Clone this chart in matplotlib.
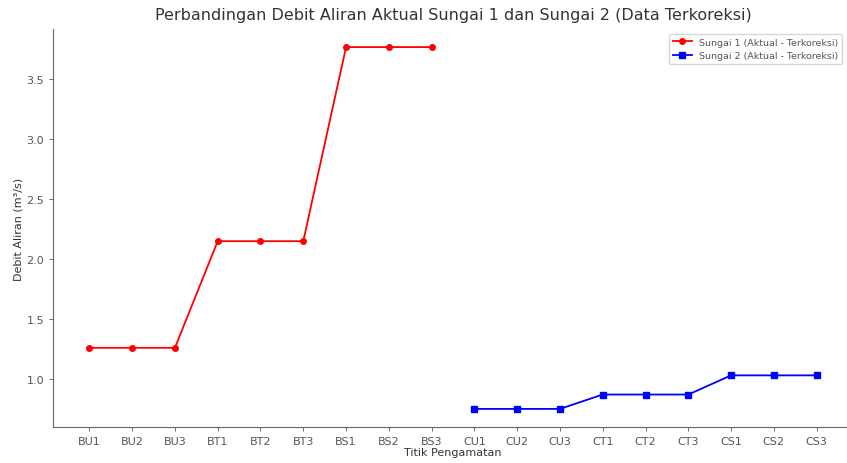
import matplotlib
matplotlib.use('Agg')
from matplotlib import pyplot as plt

titik = ['BU1', 'BU2', 'BU3', 'BT1', 'BT2', 'BT3', 'BS1', 'BS2', 'BS3',
         'CU1', 'CU2', 'CU3', 'CT1', 'CT2', 'CT3', 'CS1', 'CS2', 'CS3']
sungai1 = [1.26, 1.26, 1.26, 2.15, 2.15, 2.15, 3.77, 3.77, 3.77]
sungai2 = [0.75, 0.75, 0.75, 0.87, 0.87, 0.87, 1.03, 1.03, 1.03]

fig = plt.figure(figsize=(8.47, 4.64), dpi=100)
ax = fig.add_axes([53/847, 36/464, 800/847, 398/464])

x = list(range(len(titik)))
ax.plot(x[:9], sungai1, color='red', marker='o', markersize=4, linewidth=1.3,
        label='Sungai 1 (Aktual - Terkoreksi)')
ax.plot(x[9:], sungai2, color='blue', marker='s', markersize=4, linewidth=1.3,
        label='Sungai 2 (Aktual - Terkoreksi)')

ax.set_xticks(x)
ax.set_xticklabels(titik)
ax.tick_params(labelsize=8, colors='#555555', length=3, width=0.6)
ax.set_title('Perbandingan Debit Aliran Aktual Sungai 1 dan Sungai 2 (Data Terkoreksi)',
             fontsize=11.5, color='#333333', pad=7)
ax.set_xlabel('Titik Pengamatan', fontsize=8, color='#333333', labelpad=1)
ax.set_ylabel('Debit Aliran (m³/s)', fontsize=8, color='#333333', labelpad=2)
for s in ['top', 'right']:
    ax.spines[s].set_visible(False)
for s in ['left', 'bottom']:
    ax.spines[s].set_color('#666666')

leg = ax.legend(fontsize=6.8, loc='upper right', bbox_to_anchor=((847 - 53) / 800, 1.0),
                labelcolor='#555555')

fig.savefig('out.png', dpi=100)
